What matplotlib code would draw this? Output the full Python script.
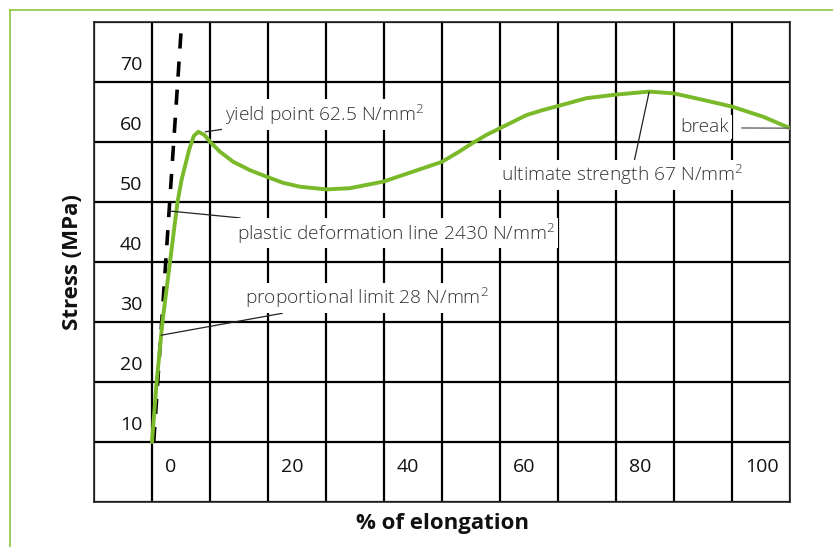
import matplotlib.pyplot as plt
from matplotlib.lines import Line2D

plt.rcParams['font.family'] = ['Open Sans', 'DejaVu Sans']
plt.rcParams['mathtext.fontset'] = 'custom'
plt.rcParams['mathtext.rm'] = 'Open Sans:light'

# stress-strain curve
elongation = [0, 0.8, 1.8, 3.1, 4.4, 5.1, 6.4, 7.2, 8.0, 9.0, 10.0, 11.7, 14.0,
              16.9, 19.8, 22.6, 25.5, 30.1, 34.1, 39.9, 44.5, 50, 52.8, 55.4, 57.7, 60,
              62.3, 64.6, 67.3, 70, 74.9, 80, 85.7, 90, 95.1, 100, 105.4, 110]
stress = [10, 20, 30, 40, 50, 53.7, 58.7, 61.0, 61.7, 61.2, 60.05, 58.4, 56.7,
          55.3, 54.2, 53.2, 52.55, 52.1, 52.3, 53.4, 54.9, 56.7, 58.3, 59.9, 61.2, 62.3,
          63.4, 64.5, 65.3, 66.0, 67.3, 67.9, 68.4, 68.1, 67.0, 65.9, 64.2, 62.3]

# dashed plastic deformation line
line_x = [0.3, 5.0]
line_y = [10, 78.3]

x_labels = [0, 20, 40, 60, 80, 100]
y_labels = [10, 20, 30, 40, 50, 60, 70]

green = '#7ab929'
text_col = '#333333'

fig = plt.figure(figsize=(8.33, 5.47), dpi=100)
W, H = 833, 547
ax = fig.add_axes([94 / W, (H - 502) / H, 696 / W, 480 / H])

ax.set_xlim(-10, 110)
ax.set_ylim(0, 80)
ax.set_xticks(range(-10, 111, 10))
ax.set_yticks(range(0, 81, 10))
ax.grid(True, color='black', lw=1.6, zorder=0)
ax.set_axisbelow(True)
ax.tick_params(length=0, labelbottom=False, labelleft=False)
for s in ax.spines.values():
    s.set_linewidth(1.2)
    s.set_color('#222222')

ax.plot(line_x, line_y, color='black', lw=2.6, dashes=(4.2, 3.6), zorder=2)
ax.plot(elongation, stress, color=green, lw=2.8, zorder=3,
        solid_joinstyle='round', solid_capstyle='round')

# cell labels
for v in x_labels:
    ax.text(v + 2.2, 5.9, str(v), ha='left', va='center', fontsize=14, color='#111111')
for v in y_labels:
    ax.text(-1.7, v + 2.8, str(v), ha='right', va='center', fontsize=14, color='#111111')

box = dict(boxstyle='square,pad=0.15', fc='white', ec='none')
lead = dict(arrowstyle='-', color='#222222', lw=0.9, shrinkA=0, shrinkB=0)
unit = r'N/mm$^{2}$'
fs = 13.8

ax.annotate('yield point 62.5 ' + unit, xy=(9.2, 61.7), xytext=(12.6, 64.6),
            ha='left', va='center', fontsize=fs, weight='light', color=text_col,
            bbox=box, arrowprops=lead, zorder=4)
ax.annotate('plastic deformation line 2430 ' + unit, xy=(3.0, 48.5), xytext=(14.7, 44.8),
            ha='left', va='center', fontsize=fs, weight='light', color=text_col,
            bbox=box, arrowprops=lead, zorder=4)
ax.annotate('proportional limit 28 ' + unit, xy=(1.6, 27.8), xytext=(16.0, 34.0),
            ha='left', va='center', fontsize=fs, weight='light', color=text_col,
            bbox=box, arrowprops=lead, zorder=4)
ax.annotate('ultimate strength 67 ' + unit, xy=(85.7, 68.3), xytext=(81.0, 54.5),
            ha='center', va='center', fontsize=fs, weight='light', color=text_col,
            bbox=box, arrowprops=dict(lead, relpos=(0.55, 1.0)), zorder=4)
ax.annotate('break', xy=(110, 62.3), xytext=(99.5, 62.5),
            ha='right', va='center', fontsize=fs, weight='light', color=text_col,
            bbox=box, arrowprops=dict(arrowstyle='-', color='#666666', lw=1.0,
                                      shrinkA=7, shrinkB=0, relpos=(1.0, 0.45)),
            zorder=4)

ax.text(-22 / 696, 0.5, 'Stress (MPa)', transform=ax.transAxes, rotation=90,
        ha='center', va='center', fontsize=16, weight='bold', color='#111111')
ax.text(0.5, -22 / 480, '% of elongation', transform=ax.transAxes,
        ha='center', va='center', fontsize=16, weight='bold', color='#111111')

# green frame around the figure
fig.add_artist(Line2D([9.5 / W, 1], [1 - 9.5 / H] * 2, color='#8dc63f', lw=1.2))
fig.add_artist(Line2D([9.5 / W] * 2, [0, 1 - 9.5 / H], color='#8dc63f', lw=1.2))

fig.savefig('out.png', dpi=100)
